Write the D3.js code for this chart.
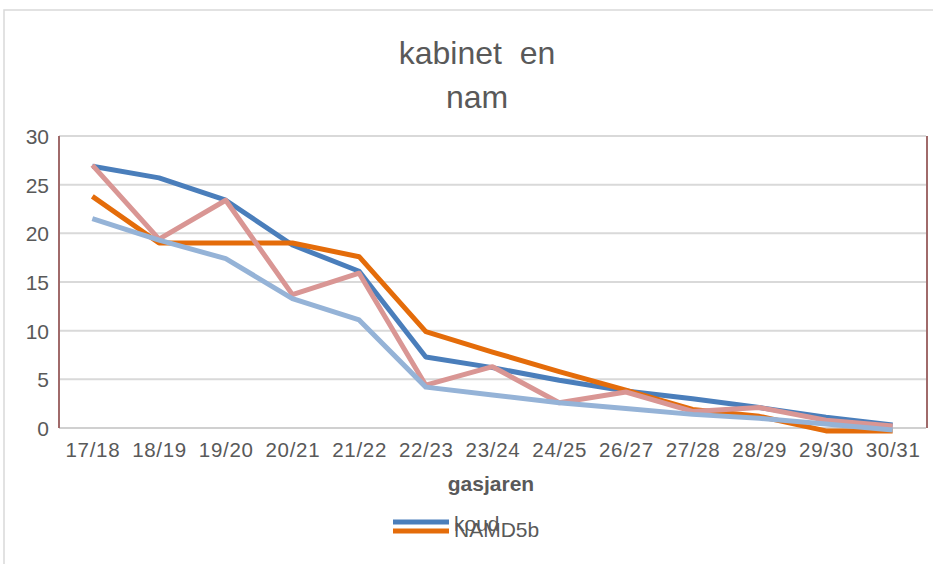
<!DOCTYPE html>
<html><head><meta charset="utf-8">
<script src="https://cdn.jsdelivr.net/npm/d3@7"></script>
<style>body{margin:0;background:#fff;} text{font-family:"Liberation Sans",Arial,sans-serif;}</style>
</head><body>
<svg id="c" width="933" height="564"></svg>
<script>
const categories = ["17/18","18/19","19/20","20/21","21/22","22/23","23/24","24/25","26/27","27/28","28/29","29/30","30/31"];
const koud      = [26.9, 25.7, 23.4, 18.8, 16.1, 7.3, 6.2, 4.9, 3.8, 3.0, 2.1, 1.1, 0.3];
const namd5b    = [23.8, 19.0, 19.0, 19.0, 17.6, 9.9, 7.8, 5.8, 3.9, 1.9, 1.2, -0.3, -0.3];
const series3   = [27.0, 19.4, 23.4, 13.7, 15.9, 4.4, 6.3, 2.6, 3.7, 1.7, 2.1, 0.8, 0.2];
const series4   = [21.5, 19.3, 17.4, 13.3, 11.1, 4.2, 3.4, 2.6, 2.0, 1.4, 1.0, 0.4, -0.2];
const yTicks    = [0, 5, 10, 15, 20, 25, 30];
const titleLines = ["kabinet  en", "nam"];
const xTitle = "gasjaren";
const legendNames = ["koud", "NAMD5b"];

const svg = d3.select("#c");
const grey = "#595959";
const m = {l:59, r:926, t:136, b:428};

// outer border
svg.append("path").attr("d","M4,564V10H933").attr("fill","none").attr("stroke","#d9d9d9").attr("stroke-width",1.5);

const x = d3.scalePoint().domain(categories).range([m.l, m.r]).padding(0.5);
const y = d3.scaleLinear().domain([0,30]).range([m.b, m.t]);

// gridlines
svg.append("g").selectAll("line").data(yTicks.filter(d=>d>0)).join("line")
  .attr("x1", m.l).attr("x2", m.r).attr("y1", d=>y(d)).attr("y2", d=>y(d))
  .attr("stroke","#d9d9d9").attr("stroke-width",2);
svg.append("line").attr("x1",m.l).attr("x2",m.r).attr("y1",y(0)).attr("y2",y(0)).attr("stroke","#d0d0d0").attr("stroke-width",2);
// vertical side lines
svg.append("line").attr("x1",m.l).attr("x2",m.l).attr("y1",y(30)).attr("y2",y(0)).attr("stroke","#a06a6a").attr("stroke-width",2);
svg.append("line").attr("x1",m.r+1).attr("x2",m.r+1).attr("y1",y(30)).attr("y2",y(0)).attr("stroke","#a06a6a").attr("stroke-width",2);

// y axis labels
const yAxis = d3.axisLeft(y).tickValues(yTicks).tickSize(0).tickPadding(10);
const ga = svg.append("g").attr("transform",`translate(${m.l},0)`).call(yAxis);
ga.select(".domain").remove();
ga.selectAll("text").attr("font-size",21).attr("fill",grey).style("font-family","'Liberation Sans',Arial,sans-serif").attr("dy","0.35em");

// x axis labels
const xAxis = d3.axisBottom(x).tickSize(0).tickPadding(14);
const gx = svg.append("g").attr("transform",`translate(0,${m.b})`).call(xAxis);
gx.select(".domain").remove();
gx.selectAll("text").attr("font-size",20.5).attr("fill",grey).attr("letter-spacing","0.7px").style("font-family","'Liberation Sans',Arial,sans-serif");

// lines
const line = d3.line().x((d,i)=>x(categories[i])).y(d=>y(d));
const sers = [
  {v:koud, c:"#4a7ebb"},
  {v:namd5b, c:"#e46c0a"},
  {v:series3, c:"#d99694"},
  {v:series4, c:"#95b3d7"}
];
svg.append("g").selectAll("path").data(sers).join("path")
  .attr("d", d=>line(d.v)).attr("fill","none").attr("stroke", d=>d.c)
  .attr("stroke-width",5).attr("stroke-linejoin","round");

// title
svg.append("g").selectAll("text").data(titleLines).join("text")
  .attr("x",477).attr("y",(d,i)=>64+i*44).attr("text-anchor","middle")
  .style("white-space","pre")
  .attr("font-size",32).attr("fill",grey).text(d=>d);

// x title
svg.append("text").attr("x",491).attr("y",491).attr("text-anchor","middle")
  .attr("font-size",21).attr("font-weight","bold").attr("fill",grey).text(xTitle);

// legend
const leg = [{n:legendNames[0], c:"#4a7ebb", ly:522, ty:531},{n:legendNames[1], c:"#e46c0a", ly:531, ty:537}];
const lg = svg.append("g");
lg.selectAll("line").data(leg).join("line").attr("x1",393).attr("x2",449).attr("y1",d=>d.ly).attr("y2",d=>d.ly)
  .attr("stroke",d=>d.c).attr("stroke-width",5);
lg.selectAll("text").data(leg).join("text").attr("x",454).attr("y",d=>d.ty)
  .attr("font-size",21).attr("fill",grey).text(d=>d.n);
</script>
</body></html>
